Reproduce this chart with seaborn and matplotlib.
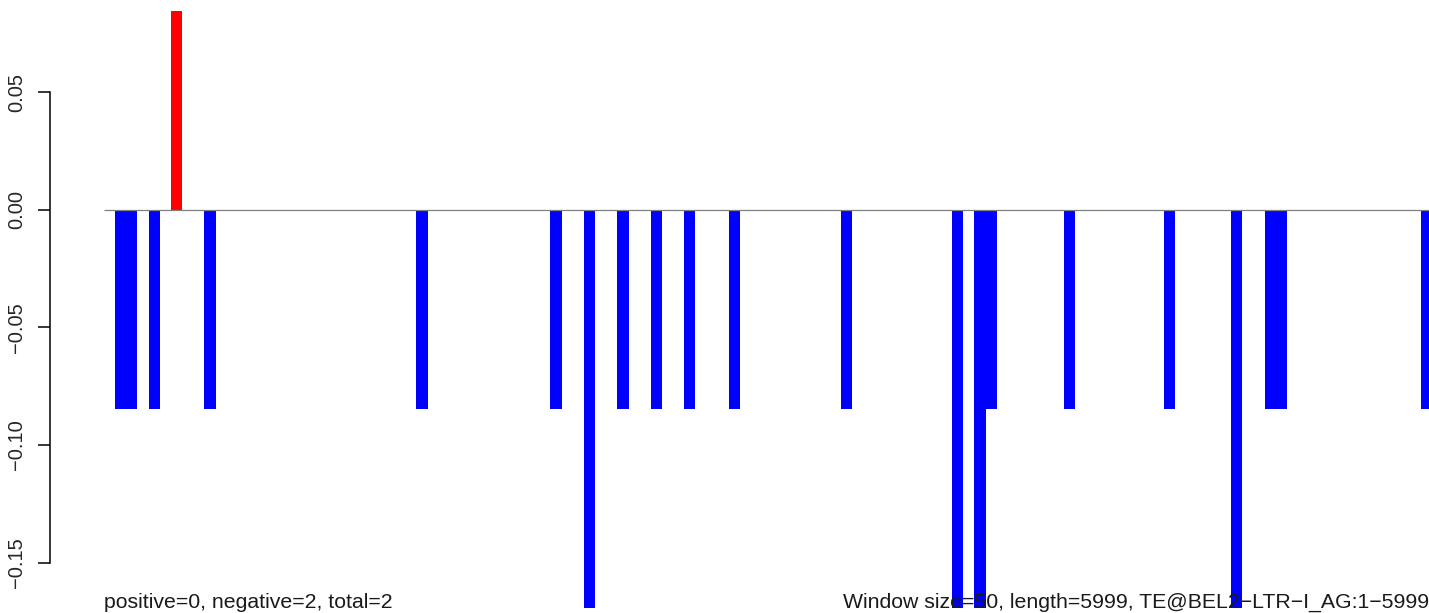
import pandas as pd
import numpy as np
import matplotlib
matplotlib.use("Agg")
import matplotlib.pyplot as plt
import matplotlib.transforms as mtransforms
import seaborn as sb

# 50 bp windows along the 5999 bp element
n_windows = 120
short_neg = [1, 2, 4, 9, 28, 40, 46, 49, 52, 56, 66, 79, 86, 95, 104, 105, 118]
tall_neg = [43, 76, 78, 101]
pos_windows = [6]
short_value = -0.0847
tall_value = -0.1694
pos_value = 0.0847

left_note = "positive=0, negative=2, total=2"
right_note = "Window size=50, length=5999, TE@BEL2\u2212LTR\u2212I_AG:1\u22125999"
y_ticks = [-0.15, -0.10, -0.05, 0.00, 0.05]

values = np.zeros(n_windows)
values[short_neg] = short_value
values[tall_neg] = tall_value
values[pos_windows] = pos_value

df = pd.DataFrame({"window": np.arange(n_windows), "score": values})
df["sign"] = np.where(df["score"] > 0, "pos", "neg")

sb.set_style("white")
plt.rcParams["font.family"] = ["Liberation Sans", "DejaVu Sans"]

fig = plt.figure(figsize=(14.29, 6.13), dpi=100)
ax = fig.add_axes([0, 0, 1, 1])
sb.barplot(data=df, x="window", y="score", hue="sign",
           palette={"pos": "#ff0000", "neg": "#0000ff"}, saturation=1,
           dodge=False, width=1.0, linewidth=0, legend=False, ax=ax, zorder=2)

# zero line across all windows
ax.hlines(0, -0.5, n_windows - 0.5, color="#808080", lw=0.9, zorder=3)

# pixel mapping: window i starts at 104 + 11.16*i px, 0.05 per 117.5 px
px = 11.16
ax.set_xlim(-104 / px - 0.5, (1429 - 104) / px - 0.5)
ax.set_ylim(-(613 - 210) / 2350, 210 / 2350)

for s in ["top", "right", "bottom"]:
    ax.spines[s].set_visible(False)
ax.spines["left"].set_position(("data", (50 - 104) / px - 0.5))
ax.spines["left"].set_bounds(-0.15, 0.05)
ax.spines["left"].set_linewidth(1.1)
ax.spines["left"].set_color("black")
ax.set_yticks(y_ticks)
ax.set_yticklabels([f"{t:.2f}".replace("-", "\u2212") for t in y_ticks],
                   rotation=90, va="center", fontsize=14.5)
ax.tick_params(axis="y", length=8.6, width=1.1, pad=8.5, color="black", left=True)
ax.set_xticks([])
ax.set_xlabel("")
ax.set_ylabel("")

trans = mtransforms.blended_transform_factory(ax.transData, ax.transAxes)
ax.text(-0.5, 5 / 613, left_note, transform=trans, ha="left", va="baseline",
        fontsize=15.3, color="#1a1a1a", zorder=5)
ax.text((843 - 104) / px - 0.5, 5 / 613, right_note, transform=trans, ha="left",
        va="baseline", fontsize=15.3, color="#1a1a1a", zorder=5, clip_on=False)

plt.savefig("out.png", dpi=100)
